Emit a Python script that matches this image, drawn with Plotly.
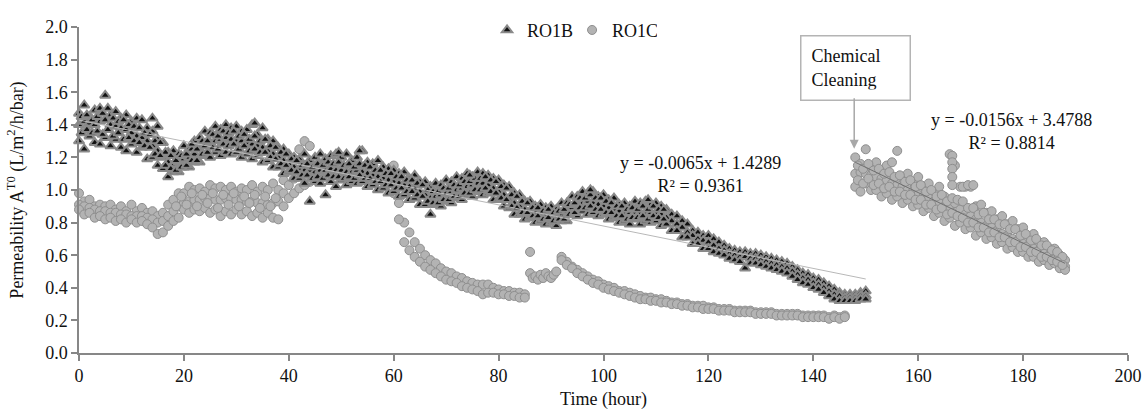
"""
Permeability of RO1B / RO1C over time - Plotly version
"""

import plotly.graph_objects as go

# ---------------- RO1B : hourly readings across the band ----------------
B_HOURS = list(range(0, 151))
B_UPPER = [
    1.47, 1.52, 1.45, 1.49, 1.50, 1.58, 1.46, 1.48, 1.44, 1.46,
    1.42, 1.44, 1.43, 1.38, 1.36, 1.31, 1.29, 1.23, 1.24, 1.22,
    1.27, 1.25, 1.30, 1.32, 1.36, 1.35, 1.39, 1.37, 1.40, 1.38,
    1.39, 1.36, 1.37, 1.40, 1.34, 1.38, 1.31, 1.30, 1.26, 1.25,
    1.22, 1.20, 1.19, 1.22, 1.18, 1.20, 1.22, 1.19, 1.21, 1.22,
    1.20, 1.22, 1.18, 1.20, 1.24, 1.17, 1.16, 1.18, 1.14, 1.13,
    1.12, 1.10, 1.11, 1.07, 1.09, 1.05, 1.05, 1.02, 1.04, 1.03,
    1.06, 1.05, 1.08, 1.07, 1.10, 1.08, 1.11, 1.10, 1.09, 1.07,
    1.06, 1.03, 1.02, 0.98, 0.97, 0.93, 0.93, 0.90, 0.91, 0.89,
    0.90, 0.88, 0.92, 0.92, 0.96, 0.96, 0.99, 0.98, 0.99, 0.96,
    0.97, 0.94, 0.95, 0.91, 0.92, 0.90, 0.93, 0.92, 0.93, 0.91,
    0.92, 0.90, 0.88, 0.85, 0.84, 0.81, 0.79, 0.75, 0.74, 0.72,
    0.72, 0.70, 0.68, 0.66, 0.64, 0.63, 0.62, 0.62, 0.61, 0.61,
    0.60, 0.59, 0.58, 0.57, 0.56, 0.55, 0.53, 0.51, 0.49, 0.48,
    0.46, 0.45, 0.43, 0.41, 0.39, 0.37, 0.36, 0.36, 0.36, 0.37, 0.38,
]
B_CENTER = [
    1.40, 1.42, 1.41, 1.40, 1.42, 1.43, 1.40, 1.39, 1.38, 1.37,
    1.35, 1.33, 1.32, 1.30, 1.27, 1.24, 1.20, 1.17, 1.16, 1.17,
    1.19, 1.20, 1.22, 1.25, 1.27, 1.29, 1.30, 1.31, 1.32, 1.31,
    1.30, 1.30, 1.29, 1.28, 1.27, 1.26, 1.24, 1.22, 1.20, 1.18,
    1.16, 1.14, 1.13, 1.12, 1.12, 1.11, 1.12, 1.12, 1.13, 1.12,
    1.12, 1.11, 1.11, 1.12, 1.11, 1.10, 1.09, 1.08, 1.07, 1.06,
    1.05, 1.04, 1.03, 1.02, 1.01, 0.99, 0.97, 0.95, 0.96, 0.97,
    0.98, 0.99, 1.00, 1.01, 1.02, 1.03, 1.04, 1.04, 1.03, 1.01,
    0.99, 0.97, 0.94, 0.92, 0.90, 0.88, 0.87, 0.86, 0.85, 0.85,
    0.84, 0.84, 0.85, 0.87, 0.89, 0.91, 0.92, 0.93, 0.92, 0.91,
    0.90, 0.89, 0.88, 0.87, 0.86, 0.86, 0.86, 0.86, 0.86, 0.86,
    0.86, 0.85, 0.83, 0.81, 0.79, 0.77, 0.74, 0.72, 0.70, 0.69,
    0.68, 0.66, 0.64, 0.63, 0.61, 0.60, 0.59, 0.59, 0.58, 0.58,
    0.57, 0.56, 0.55, 0.54, 0.53, 0.52, 0.50, 0.48, 0.46, 0.45,
    0.43, 0.42, 0.40, 0.38, 0.36, 0.35, 0.34, 0.34, 0.34, 0.35, 0.35,
]
B_LOWER = [
    1.30, 1.25, 1.33, 1.29, 1.28, 1.32, 1.27, 1.31, 1.26, 1.24,
    1.28, 1.23, 1.26, 1.19, 1.20, 1.15, 1.13, 1.08, 1.11, 1.11,
    1.14, 1.14, 1.17, 1.17, 1.21, 1.20, 1.23, 1.21, 1.23, 1.22,
    1.23, 1.20, 1.22, 1.19, 1.21, 1.17, 1.18, 1.14, 1.14, 1.10,
    1.11, 1.07, 1.07, 1.04, 0.93, 1.05, 1.04, 0.97, 1.05, 1.02,
    1.06, 1.03, 1.05, 1.04, 1.05, 1.02, 1.03, 1.00, 1.01, 0.98,
    0.99, 0.96, 0.97, 0.94, 0.95, 0.91, 0.91, 0.85, 0.91, 0.90,
    0.93, 0.92, 0.95, 0.94, 0.97, 0.96, 0.99, 0.97, 0.98, 0.94,
    0.94, 0.90, 0.89, 0.85, 0.85, 0.82, 0.83, 0.80, 0.81, 0.79,
    0.80, 0.78, 0.81, 0.81, 0.85, 0.84, 0.87, 0.85, 0.86, 0.84,
    0.85, 0.82, 0.83, 0.80, 0.81, 0.79, 0.82, 0.79, 0.81, 0.80,
    0.81, 0.78, 0.79, 0.75, 0.75, 0.71, 0.71, 0.67, 0.67, 0.64,
    0.64, 0.62, 0.61, 0.60, 0.58, 0.57, 0.56, 0.52, 0.55, 0.55,
    0.54, 0.53, 0.52, 0.51, 0.50, 0.49, 0.47, 0.45, 0.43, 0.42,
    0.40, 0.39, 0.37, 0.35, 0.33, 0.32, 0.32, 0.32, 0.32, 0.33, 0.33,
]
# half-hour readings in the wide part of the band (0.5 ... 111.5 h)
B_HALF_HOURS = [h + 0.5 for h in range(0, 112)]
B_UPPER_MID = [
    1.45, 1.46, 1.43, 1.45, 1.47, 1.50, 1.44, 1.42, 1.43, 1.40,
    1.39, 1.38, 1.35, 1.34, 1.30, 1.29, 1.23, 1.21, 1.18, 1.21,
    1.22, 1.25, 1.25, 1.30, 1.30, 1.34, 1.33, 1.36, 1.35, 1.36,
    1.33, 1.34, 1.31, 1.33, 1.30, 1.31, 1.27, 1.26, 1.23, 1.22,
    1.19, 1.18, 1.15, 1.16, 1.14, 1.16, 1.15, 1.17, 1.16, 1.17,
    1.15, 1.16, 1.14, 1.16, 1.15, 1.14, 1.12, 1.12, 1.10, 1.10,
    1.08, 1.08, 1.06, 1.06, 1.04, 1.03, 1.00, 0.99, 0.99, 1.01,
    1.01, 1.03, 1.03, 1.05, 1.05, 1.07, 1.07, 1.08, 1.06, 1.05,
    1.02, 1.01, 0.97, 0.96, 0.93, 0.92, 0.89, 0.89, 0.87, 0.88,
    0.86, 0.87, 0.88, 0.91, 0.92, 0.95, 0.95, 0.97, 0.95, 0.95,
    0.93, 0.92, 0.90, 0.90, 0.88, 0.89, 0.88, 0.90, 0.88, 0.90,
    0.88, 0.88,
]
B_LOWER_MID = [
    1.35, 1.37, 1.35, 1.36, 1.34, 1.37, 1.33, 1.35, 1.31, 1.32,
    1.30, 1.29, 1.27, 1.26, 1.22, 1.21, 1.15, 1.13, 1.12, 1.14,
    1.15, 1.18, 1.18, 1.22, 1.23, 1.26, 1.25, 1.28, 1.27, 1.28,
    1.25, 1.27, 1.24, 1.25, 1.23, 1.23, 1.20, 1.19, 1.16, 1.15,
    1.12, 1.11, 1.09, 1.09, 1.07, 1.08, 1.07, 1.09, 1.08, 1.08,
    1.07, 1.08, 1.07, 1.09, 1.07, 1.07, 1.05, 1.05, 1.03, 1.03,
    1.01, 1.01, 0.99, 0.99, 0.97, 0.96, 0.93, 0.92, 0.92, 0.94,
    0.94, 0.96, 0.96, 0.98, 0.98, 1.00, 1.00, 1.01, 0.99, 0.98,
    0.95, 0.94, 0.90, 0.89, 0.86, 0.86, 0.84, 0.84, 0.82, 0.83,
    0.81, 0.82, 0.82, 0.85, 0.86, 0.89, 0.89, 0.90, 0.88, 0.88,
    0.86, 0.86, 0.84, 0.84, 0.82, 0.83, 0.83, 0.84, 0.82, 0.84,
    0.83, 0.82,
]
# isolated points outside the band
B_OUT_HOURS = [14, 15, 21.5, 33.5, 49.5, 53.5, 74.5, 97.5, 108.5]
B_OUT_VALUES = [1.44, 1.39, 1.28, 1.41, 1.23, 1.24, 1.09, 1.00, 0.94]

# ---------------- RO1C : read segment by segment ----------------
# 0-44 h
C1_HOURS = list(range(0, 45))
C1_UPPER = [
    0.98, 0.93, 0.94, 0.90, 0.91, 0.90, 0.91, 0.88, 0.90, 0.87,
    0.91, 0.87, 0.89, 0.86, 0.87, 0.84, 0.86, 0.91, 0.94, 0.98,
    0.98, 1.02, 1.00, 1.01, 0.99, 1.03, 1.01, 1.02, 1.00, 1.02,
    0.99, 1.01, 1.00, 1.03, 0.99, 1.02, 1.00, 1.04, 1.00, 1.06,
    1.12, 1.18, 1.25, 1.30, 1.27,
]
C1_CENTER = [
    0.91, 0.90, 0.89, 0.88, 0.87, 0.87, 0.86, 0.86, 0.85, 0.85,
    0.84, 0.84, 0.84, 0.83, 0.82, 0.80, 0.81, 0.84, 0.87, 0.90,
    0.92, 0.93, 0.94, 0.94, 0.95, 0.95, 0.94, 0.94, 0.95, 0.95,
    0.94, 0.94, 0.93, 0.93, 0.92, 0.92, 0.91, 0.92, 0.93, 0.98,
    1.03, 1.07, 1.10, 1.12, 1.13,
]
C1_LOWER = [
    0.88, 0.85, 0.86, 0.83, 0.84, 0.82, 0.83, 0.81, 0.82, 0.80,
    0.82, 0.80, 0.81, 0.79, 0.77, 0.73, 0.74, 0.78, 0.81, 0.83,
    0.88, 0.86, 0.88, 0.87, 0.89, 0.86, 0.88, 0.84, 0.87, 0.85,
    0.88, 0.85, 0.87, 0.84, 0.86, 0.83, 0.86, 0.83, 0.82, 0.90,
    0.95, 0.98, 1.01, 1.03, 1.05,
]
C1_HALF_HOURS = [h + 0.5 for h in range(18, 38)]
C1_HALF_VALUES = [0.90, 0.96, 0.91, 0.98, 0.90, 0.97, 0.92, 0.98, 0.89, 0.97,
                  0.91, 0.98, 0.90, 0.96, 0.92, 0.97, 0.89, 0.96, 0.90, 0.95]
# 45-59 h (under the RO1B band)
C2_HOURS = list(range(45, 60))
C2_VALUES = [1.12, 1.11, 1.11, 1.10, 1.10, 1.10, 1.09, 1.09, 1.08, 1.08,
             1.07, 1.07, 1.06, 1.05, 1.04]
# 60-85 h
C3_HOURS = list(range(60, 86))
C3_UPPER = [
    1.15, 0.92, 0.80, 0.74, 0.68, 0.64, 0.60, 0.57, 0.55, 0.52,
    0.50, 0.49, 0.47, 0.46, 0.44, 0.43, 0.42, 0.42, 0.42, 0.40,
    0.39, 0.38, 0.38, 0.37, 0.37, 0.36,
]
C3_LOWER = [
    0.98, 0.82, 0.68, 0.63, 0.59, 0.56, 0.53, 0.51, 0.49, 0.47,
    0.45, 0.44, 0.43, 0.41, 0.40, 0.39, 0.38, 0.36, 0.37, 0.37,
    0.36, 0.36, 0.35, 0.35, 0.34, 0.34,
]
# 86-91 h
C4_HOURS = [86, 86, 86.5, 87, 87.5, 88, 88.5, 89, 89.5, 90, 90.5, 91]
C4_VALUES = [0.62, 0.49, 0.46, 0.47, 0.45, 0.48, 0.46, 0.49, 0.47, 0.46, 0.48, 0.50]
# 92-146 h
C5_HOURS = list(range(92, 147))
C5_UPPER = [
    0.59, 0.56, 0.53, 0.51, 0.49, 0.47, 0.45, 0.44,
    0.42, 0.41, 0.40, 0.38, 0.38, 0.37, 0.36, 0.35, 0.34, 0.34,
    0.33, 0.33, 0.32, 0.31, 0.31, 0.30, 0.30, 0.29, 0.29, 0.29,
    0.28, 0.28, 0.27, 0.27, 0.27, 0.26, 0.26, 0.26, 0.26, 0.25,
    0.25, 0.25, 0.25, 0.24, 0.24, 0.24, 0.24, 0.24, 0.23, 0.23,
    0.23, 0.23, 0.23, 0.22, 0.23, 0.22, 0.23,
]
C5_CENTER = [
    0.57, 0.54, 0.52, 0.49, 0.47, 0.45, 0.43, 0.42,
    0.40, 0.39, 0.38, 0.37, 0.36, 0.35, 0.34, 0.33, 0.33, 0.32,
    0.32, 0.31, 0.31, 0.30, 0.30, 0.29, 0.29, 0.28, 0.28, 0.27,
    0.27, 0.27, 0.26, 0.26, 0.26, 0.25, 0.25, 0.25, 0.25, 0.24,
    0.24, 0.24, 0.24, 0.23, 0.23, 0.23, 0.23, 0.23, 0.22, 0.22,
    0.22, 0.22, 0.22, 0.21, 0.22, 0.21, 0.22,
]
# 148-188 h (after chemical cleaning)
C6_HOURS = list(range(148, 189))
C6_UPPER = [
    1.20, 1.16, 1.25, 1.14, 1.17, 1.12, 1.15, 1.17, 1.24, 1.08,
    1.10, 1.05, 1.08, 1.02, 1.04, 0.99, 1.02, 0.96, 1.22, 1.15,
    1.02, 1.02, 1.02, 0.90, 0.91, 0.86, 0.87, 0.82, 0.84, 0.79,
    0.81, 0.76, 0.77, 0.72, 0.73, 0.68, 0.68, 0.64, 0.64, 0.60,
    0.57,
]
C6_CENTER = [
    1.10, 1.11, 1.10, 1.09, 1.08, 1.07, 1.06, 1.04, 1.03, 1.02,
    1.00, 0.99, 0.97, 0.96, 0.95, 0.93, 0.92, 0.90, 0.89, 0.92,
    0.88, 0.85, 0.84, 0.82, 0.80, 0.78, 0.77, 0.75, 0.73, 0.72,
    0.70, 0.69, 0.67, 0.66, 0.64, 0.63, 0.61, 0.60, 0.58, 0.56,
    0.53,
]
C6_LOWER = [
    1.02, 0.99, 1.04, 1.00, 1.00, 0.96, 0.98, 0.94, 0.96, 0.92,
    0.94, 0.90, 0.91, 0.87, 0.89, 0.84, 0.86, 0.81, 0.83, 0.78,
    0.80, 0.76, 0.77, 0.72, 0.74, 0.70, 0.71, 0.67, 0.68, 0.64,
    0.65, 0.62, 0.62, 0.59, 0.59, 0.56, 0.57, 0.54, 0.55, 0.52,
    0.51,
]
C6_HALF_HOURS = [h + 0.5 for h in range(148, 188)]
C6_UPPER_MID = [
    1.15, 1.13, 1.16, 1.12, 1.13, 1.10, 1.11, 1.08, 1.09, 1.05,
    1.06, 1.02, 1.03, 0.99, 1.00, 0.96, 0.97, 0.93, 0.95, 0.94,
    0.93, 0.89, 0.89, 0.85, 0.86, 0.82, 0.82, 0.79, 0.79, 0.76,
    0.76, 0.72, 0.73, 0.69, 0.70, 0.66, 0.66, 0.63, 0.62, 0.59,
]
C6_LOWER_MID = [
    1.06, 1.04, 1.07, 1.03, 1.04, 1.01, 1.02, 0.99, 0.99, 0.97,
    0.97, 0.94, 0.94, 0.91, 0.91, 0.88, 0.89, 0.85, 0.86, 0.84,
    0.83, 0.80, 0.80, 0.77, 0.77, 0.74, 0.74, 0.71, 0.71, 0.68,
    0.68, 0.65, 0.65, 0.62, 0.62, 0.59, 0.59, 0.57, 0.56, 0.54,
]
# vertical streak near 167 h
C7_HOURS = [166.5, 166.5, 166.5, 166.5, 166.5, 168.5, 169.5, 170.5]
C7_VALUES = [1.21, 1.17, 1.13, 1.08, 1.03, 1.02, 1.03, 1.03]

# trendlines (end points of the fitted lines)
TREND_B_X = [0, 150]
TREND_B_Y = [1.4289, 0.4539]
TREND_C_X = [148, 188]
TREND_C_Y = [1.17, 0.55]

EQ_B = "y = -0.0065x + 1.4289<br>R² = 0.9361"
EQ_C = "y = -0.0156x + 3.4788<br>R² = 0.8814"

FONT = '"Liberation Serif", "Times New Roman", serif'
AXIS_GREY = "#878787"

# 组装数据
b_x = B_HOURS * 3 + B_HALF_HOURS * 2 + B_OUT_HOURS
b_y = B_UPPER + B_CENTER + B_LOWER + B_UPPER_MID + B_LOWER_MID + B_OUT_VALUES
c_x = (C1_HOURS * 3 + C1_HALF_HOURS + C2_HOURS + C3_HOURS * 2 + C4_HOURS
       + C5_HOURS * 2 + C6_HOURS * 3 + C6_HALF_HOURS * 2 + C7_HOURS)
c_y = (C1_UPPER + C1_CENTER + C1_LOWER + C1_HALF_VALUES + C2_VALUES
       + C3_UPPER + C3_LOWER + C4_VALUES + C5_UPPER + C5_CENTER
       + C6_UPPER + C6_CENTER + C6_LOWER + C6_UPPER_MID + C6_LOWER_MID
       + C7_VALUES)

fig = go.Figure()

fig.add_trace(go.Scatter(
    x=c_x, y=c_y, mode='markers', name='RO1C', legendrank=2,
    cliponaxis=False,
    marker=dict(symbol='circle', size=9, color='#b3b3b3',
                line=dict(color='#8e8e8e', width=1))
))
fig.add_trace(go.Scatter(
    x=b_x, y=b_y, mode='markers', name='RO1B', legendrank=1,
    cliponaxis=False,
    marker=dict(symbol='triangle-up', size=9, color='#111111',
                line=dict(color='#8a8a8a', width=2))
))

# 趋势线
fig.add_trace(go.Scatter(
    x=TREND_B_X, y=TREND_B_Y, mode='lines', showlegend=False,
    line=dict(color='#b8b8b8', width=1), hoverinfo='skip'
))
fig.add_trace(go.Scatter(
    x=TREND_C_X, y=TREND_C_Y, mode='lines', showlegend=False,
    line=dict(color='#707070', width=1), hoverinfo='skip'
))

# 方程标注
fig.add_annotation(x=118.4, y=1.093, text=EQ_B, showarrow=False,
                   font=dict(size=18, color='#111'), align='center')
fig.add_annotation(x=177.7, y=1.360, text=EQ_C, showarrow=False,
                   font=dict(size=18, color='#111'), align='center')

# Chemical Cleaning 文本框 + 箭头
fig.add_annotation(x=148.0, y=1.751, text="Chemical<br>Cleaning", showarrow=False,
                   font=dict(size=18, color='#111'), align='left',
                   width=88, height=43, borderpad=10,
                   bordercolor='#b4b4b4', borderwidth=1.5, bgcolor='white')
fig.add_annotation(x=147.8, y=1.253, text='', showarrow=True, ax=0, ay=-52,
                   arrowhead=2, arrowsize=1.2, arrowwidth=1.5, arrowcolor='#a8a8a8')

fig.update_layout(
    width=1143,
    height=410,
    margin=dict(l=79, r=15, t=20, b=57),
    paper_bgcolor='white',
    plot_bgcolor='white',
    font=dict(family=FONT, size=18, color='#111'),
    showlegend=True,
    legend=dict(
        orientation='h',
        x=0.389, xanchor='left',
        y=0.99, yanchor='middle',
        font=dict(size=18),
        itemwidth=30,
        entrywidth=40,
        bgcolor='rgba(0,0,0,0)'
    ),
    xaxis=dict(
        range=[0, 200], tick0=0, dtick=20, automargin=False,
        ticks='outside', ticklen=6, tickcolor=AXIS_GREY, tickwidth=1.5,
        showline=True, linecolor=AXIS_GREY, linewidth=1.5,
        showgrid=False, zeroline=False,
        title=dict(text='Time (hour)', font=dict(size=18), standoff=11),
        tickfont=dict(size=18)
    ),
    yaxis=dict(
        range=[0, 2], tick0=0, dtick=0.2, tickformat='.1f', automargin=False,
        ticks='outside', ticklen=6, tickcolor=AXIS_GREY, tickwidth=1.5,
        showline=True, linecolor=AXIS_GREY, linewidth=1.5,
        showgrid=False, zeroline=False,
        title=dict(text='Permeability A<sup>T0</sup> (L/m<sup>2</sup>/h/bar)',
                   font=dict(size=18), standoff=17),
        tickfont=dict(size=18)
    ),
)

# 去掉页面默认的 body 边距，让图从左上角开始；不显示工具栏
fig.write_html("out.html", config={'displayModeBar': False},
               post_script="document.body.style.margin='0';")
